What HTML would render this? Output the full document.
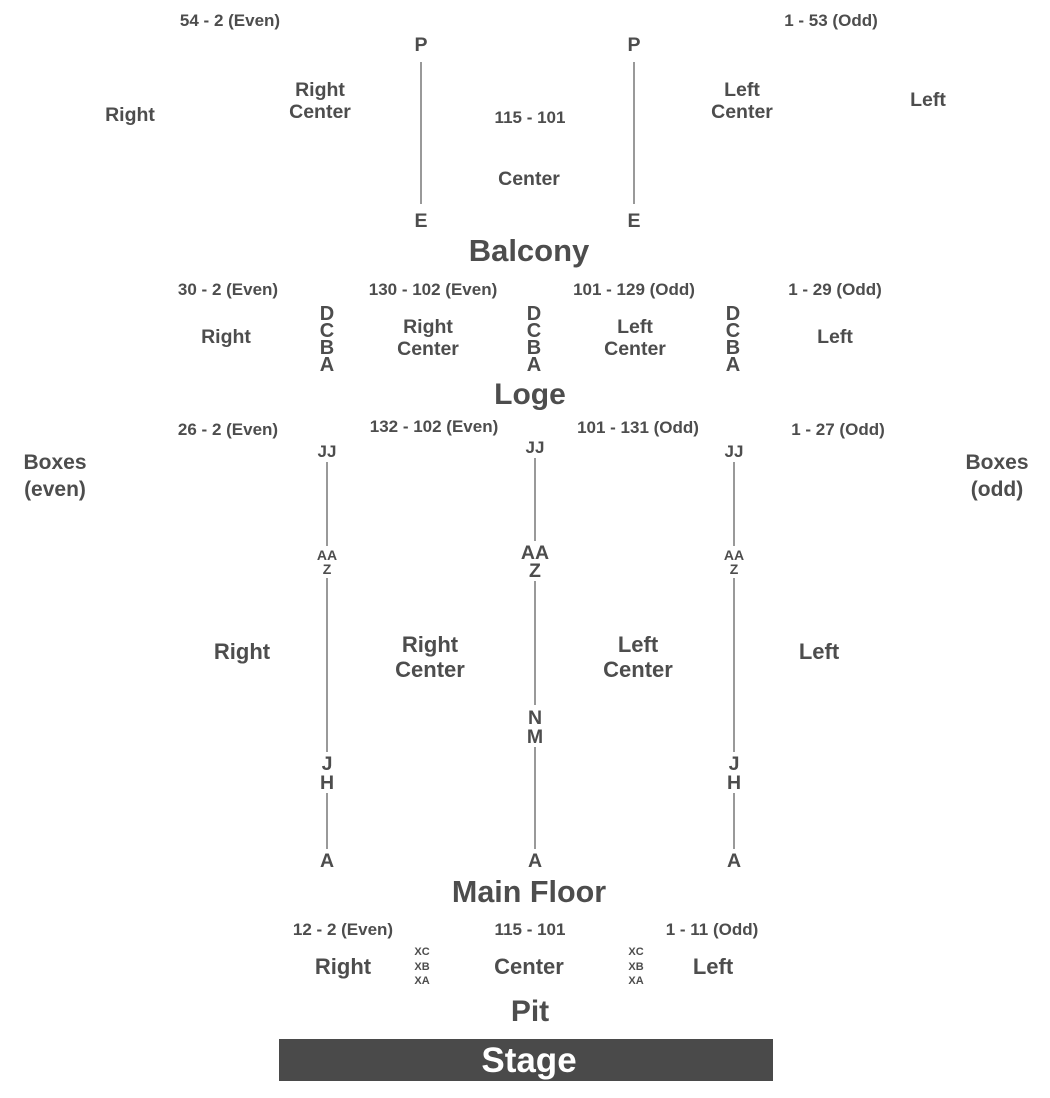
<!DOCTYPE html>
<html><head><meta charset="utf-8"><style>
html,body{margin:0;padding:0;background:#fff;width:1050px;height:1098px;overflow:hidden}
svg{display:block}
text{font-family:"Liberation Sans",Arial,sans-serif;font-weight:bold;fill:#4d4d4d;text-anchor:middle}
.s{font-size:17px}.m{font-size:19.5px}.d{font-size:20px}.l{font-size:22px}.b{font-size:21px}.t{font-size:30px}.x{font-size:11px}.a{font-size:14px}
line{stroke:#999;stroke-width:2}
</style></head><body>
<svg width="1050" height="1098" viewBox="0 0 1050 1098">
<!-- Balcony -->
<text class="s" x="230" y="26">54 - 2 (Even)</text>
<text class="s" x="831" y="26">1 - 53 (Odd)</text>
<text class="m" x="421" y="51">P</text><text class="m" x="634" y="51">P</text>
<line x1="421" y1="62" x2="421" y2="204"/><line x1="634" y1="62" x2="634" y2="204"/>
<text class="m" x="421" y="227">E</text><text class="m" x="634" y="227">E</text>
<text class="m" x="130" y="121">Right</text>
<text class="m" x="320" y="96">Right</text><text class="m" x="320" y="118">Center</text>
<text class="s" x="530" y="123">115 - 101</text>
<text class="m" x="529" y="185">Center</text>
<text class="m" x="742" y="96">Left</text><text class="m" x="742" y="118">Center</text>
<text class="m" x="928" y="106">Left</text>
<text class="t" x="529" y="261" style="font-size:31px">Balcony</text>
<!-- Loge -->
<text class="s" x="228" y="295">30 - 2 (Even)</text>
<text class="s" x="433" y="295">130 - 102 (Even)</text>
<text class="s" x="634" y="295">101 - 129 (Odd)</text>
<text class="s" x="835" y="295">1 - 29 (Odd)</text>
<text class="d" x="327" y="320">D</text><text class="d" x="327" y="337">C</text><text class="d" x="327" y="354">B</text><text class="d" x="327" y="371">A</text>
<text class="d" x="534" y="320">D</text><text class="d" x="534" y="337">C</text><text class="d" x="534" y="354">B</text><text class="d" x="534" y="371">A</text>
<text class="d" x="733" y="320">D</text><text class="d" x="733" y="337">C</text><text class="d" x="733" y="354">B</text><text class="d" x="733" y="371">A</text>
<text class="m" x="226" y="343">Right</text>
<text class="m" x="428" y="333">Right</text><text class="m" x="428" y="355">Center</text>
<text class="m" x="635" y="333">Left</text><text class="m" x="635" y="355">Center</text>
<text class="m" x="835" y="343">Left</text>
<text class="t" x="530" y="404">Loge</text>
<!-- Main floor -->
<text class="s" x="228" y="435">26 - 2 (Even)</text>
<text class="s" x="434" y="432">132 - 102 (Even)</text>
<text class="s" x="638" y="433">101 - 131 (Odd)</text>
<text class="s" x="838" y="435">1 - 27 (Odd)</text>
<text class="b" x="55" y="469">Boxes</text><text class="b" x="55" y="496">(even)</text>
<text class="b" x="997" y="469">Boxes</text><text class="b" x="997" y="496">(odd)</text>
<!-- left aisle -->
<text class="s" x="327" y="457">JJ</text>
<line x1="327" y1="462" x2="327" y2="546"/>
<text class="a" x="327" y="560">AA</text><text class="a" x="327" y="574">Z</text>
<line x1="327" y1="578" x2="327" y2="752"/>
<text class="m" x="327" y="770">J</text><text class="m" x="327" y="789">H</text>
<line x1="327" y1="793" x2="327" y2="849"/>
<text class="m" x="327" y="867">A</text>
<!-- middle aisle -->
<text class="s" x="535" y="453">JJ</text>
<line x1="535" y1="458" x2="535" y2="541"/>
<text class="m" x="535" y="559">AA</text><text class="m" x="535" y="577">Z</text>
<line x1="535" y1="581" x2="535" y2="705"/>
<text class="m" x="535" y="724">N</text><text class="m" x="535" y="743">M</text>
<line x1="535" y1="747" x2="535" y2="849"/>
<text class="m" x="535" y="867">A</text>
<!-- right aisle -->
<text class="s" x="734" y="457">JJ</text>
<line x1="734" y1="462" x2="734" y2="546"/>
<text class="a" x="734" y="560">AA</text><text class="a" x="734" y="574">Z</text>
<line x1="734" y1="578" x2="734" y2="752"/>
<text class="m" x="734" y="770">J</text><text class="m" x="734" y="789">H</text>
<line x1="734" y1="793" x2="734" y2="849"/>
<text class="m" x="734" y="867">A</text>
<text class="l" x="242" y="659">Right</text>
<text class="l" x="430" y="652">Right</text><text class="l" x="430" y="677">Center</text>
<text class="l" x="638" y="652">Left</text><text class="l" x="638" y="677">Center</text>
<text class="l" x="819" y="659">Left</text>
<text class="t" x="529" y="902" style="font-size:30.5px">Main Floor</text>
<!-- Pit -->
<text class="s" x="343" y="935">12 - 2 (Even)</text>
<text class="s" x="530" y="935">115 - 101</text>
<text class="s" x="712" y="935">1 - 11 (Odd)</text>
<text class="x" x="422" y="955">XC</text><text class="x" x="422" y="970">XB</text><text class="x" x="422" y="984">XA</text>
<text class="x" x="636" y="955">XC</text><text class="x" x="636" y="970">XB</text><text class="x" x="636" y="984">XA</text>
<text class="l" x="343" y="974">Right</text>
<text class="l" x="529" y="974">Center</text>
<text class="l" x="713" y="974">Left</text>
<text class="t" x="530" y="1021">Pit</text>
<rect x="279" y="1039" width="494" height="42" fill="#4a4a4a"/>
<text x="529" y="1072" style="font-size:35px;fill:#fff">Stage</text>
</svg>
</body></html>
